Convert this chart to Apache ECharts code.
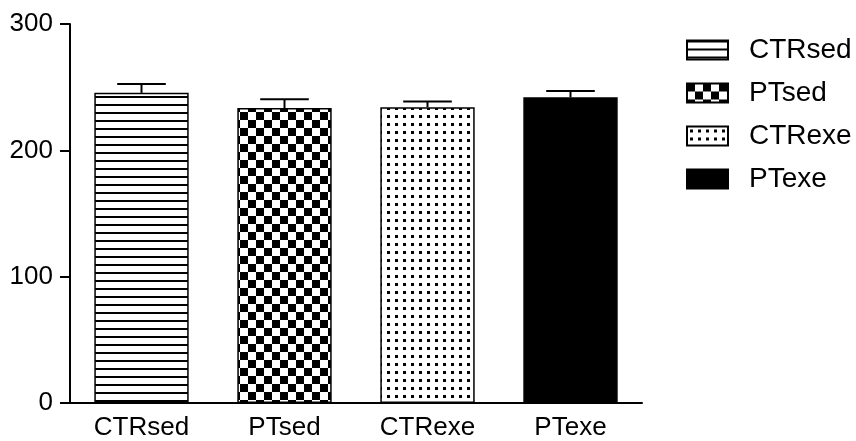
<!DOCTYPE html>
<html>
<head>
<meta charset="utf-8">
<script src="https://cdn.jsdelivr.net/npm/echarts@6/dist/echarts.min.js"></script>
<style>
  html, body { margin: 0; padding: 0; background: #fff; }
  #chart { width: 856px; height: 441px; }
</style>
</head>
<body>
<div id="chart"></div>
<script>
// data
const groups = ["CTRsed", "PTsed", "CTRexe", "PTexe"];
const means = [245.5, 233.5, 234.2, 242];
const errors = [7, 7, 4.5, 5];
const yTicks = [0, 100, 200, 300];

// fill patterns, one per group
function makePattern(kind) {
  let c = document.createElement("canvas");
  let ctx = c.getContext("2d");
  if (kind == "lines") {
    c.width = 8; c.height = 8;
    ctx.fillStyle = "#fff"; ctx.fillRect(0, 0, 8, 8);
    ctx.fillStyle = "#000"; ctx.fillRect(0, 0, 8, 2);
  } else if (kind == "checker") {
    c.width = 16; c.height = 16;
    ctx.fillStyle = "#fff"; ctx.fillRect(0, 0, 16, 16);
    ctx.fillStyle = "#000";
    ctx.fillRect(0, 0, 8, 8);
    ctx.fillRect(8, 8, 8, 8);
  } else if (kind == "dots") {
    c.width = 8; c.height = 8;
    ctx.fillStyle = "#fff"; ctx.fillRect(0, 0, 8, 8);
    ctx.fillStyle = "#000"; ctx.fillRect(3, 3, 3, 3);
  } else {
    c.width = 4; c.height = 4;
    ctx.fillStyle = "#000"; ctx.fillRect(0, 0, 4, 4);
  }
  return { image: c, repeat: "repeat" };
}
const fills = [makePattern("lines"), makePattern("checker"), makePattern("dots"), makePattern("solid")];

const font = "Liberation Sans";
let myChart = echarts.init(document.getElementById("chart"));

let series = groups.map((name, i) => ({
  name: name,
  type: "bar",
  stack: "all",
  barWidth: "66%",
  data: means.map((v, j) => (j == i ? v : "-")),
  itemStyle: {
    color: fills[i],
    borderColor: "#000",
    borderWidth: 1.5
  },
  animation: false
}));

// error bars (upper only)
series.push({
  type: "custom",
  z: 5,
  animation: false,
  data: means.map((v, i) => [i, v, v + errors[i]]),
  renderItem: function (params, api) {
    let base = api.coord([api.value(0), api.value(1)]);
    let top = api.coord([api.value(0), api.value(2)]);
    let half = api.size([1, 0])[0] * 0.17;
    let style = { stroke: "#000", lineWidth: 2 };
    return {
      type: "group",
      children: [
        { type: "line", shape: { x1: base[0], y1: base[1], x2: top[0], y2: top[1] }, style: style },
        { type: "line", shape: { x1: top[0] - half, y1: top[1], x2: top[0] + half, y2: top[1] }, style: style }
      ]
    };
  }
});

myChart.setOption({
  animation: false,
  grid: { left: 70, right: 214, top: 24, bottom: 37 },
  legend: {
    data: groups,
    orient: "vertical",
    left: 681,
    top: 31,
    itemWidth: 41,
    itemHeight: 19,
    itemGap: 15,
    icon: "rect",
    textStyle: {
      fontFamily: font,
      fontSize: 28,
      color: "#000",
      padding: [0, 0, 0, 16]
    }
  },
  xAxis: {
    type: "category",
    data: groups,
    axisLine: { lineStyle: { color: "#000", width: 2 } },
    axisTick: { show: false },
    axisLabel: { fontFamily: font, fontSize: 26, color: "#000", margin: 12 }
  },
  yAxis: {
    type: "value",
    min: yTicks[0],
    max: yTicks[yTicks.length - 1],
    interval: 100,
    axisLine: { show: true, lineStyle: { color: "#000", width: 2 } },
    axisTick: { show: true, length: 10, lineStyle: { color: "#000", width: 2 } },
    splitLine: { show: false },
    axisLabel: { fontFamily: font, fontSize: 26, color: "#000", margin: 17 }
  },
  series: series
});
</script>
</body>
</html>
